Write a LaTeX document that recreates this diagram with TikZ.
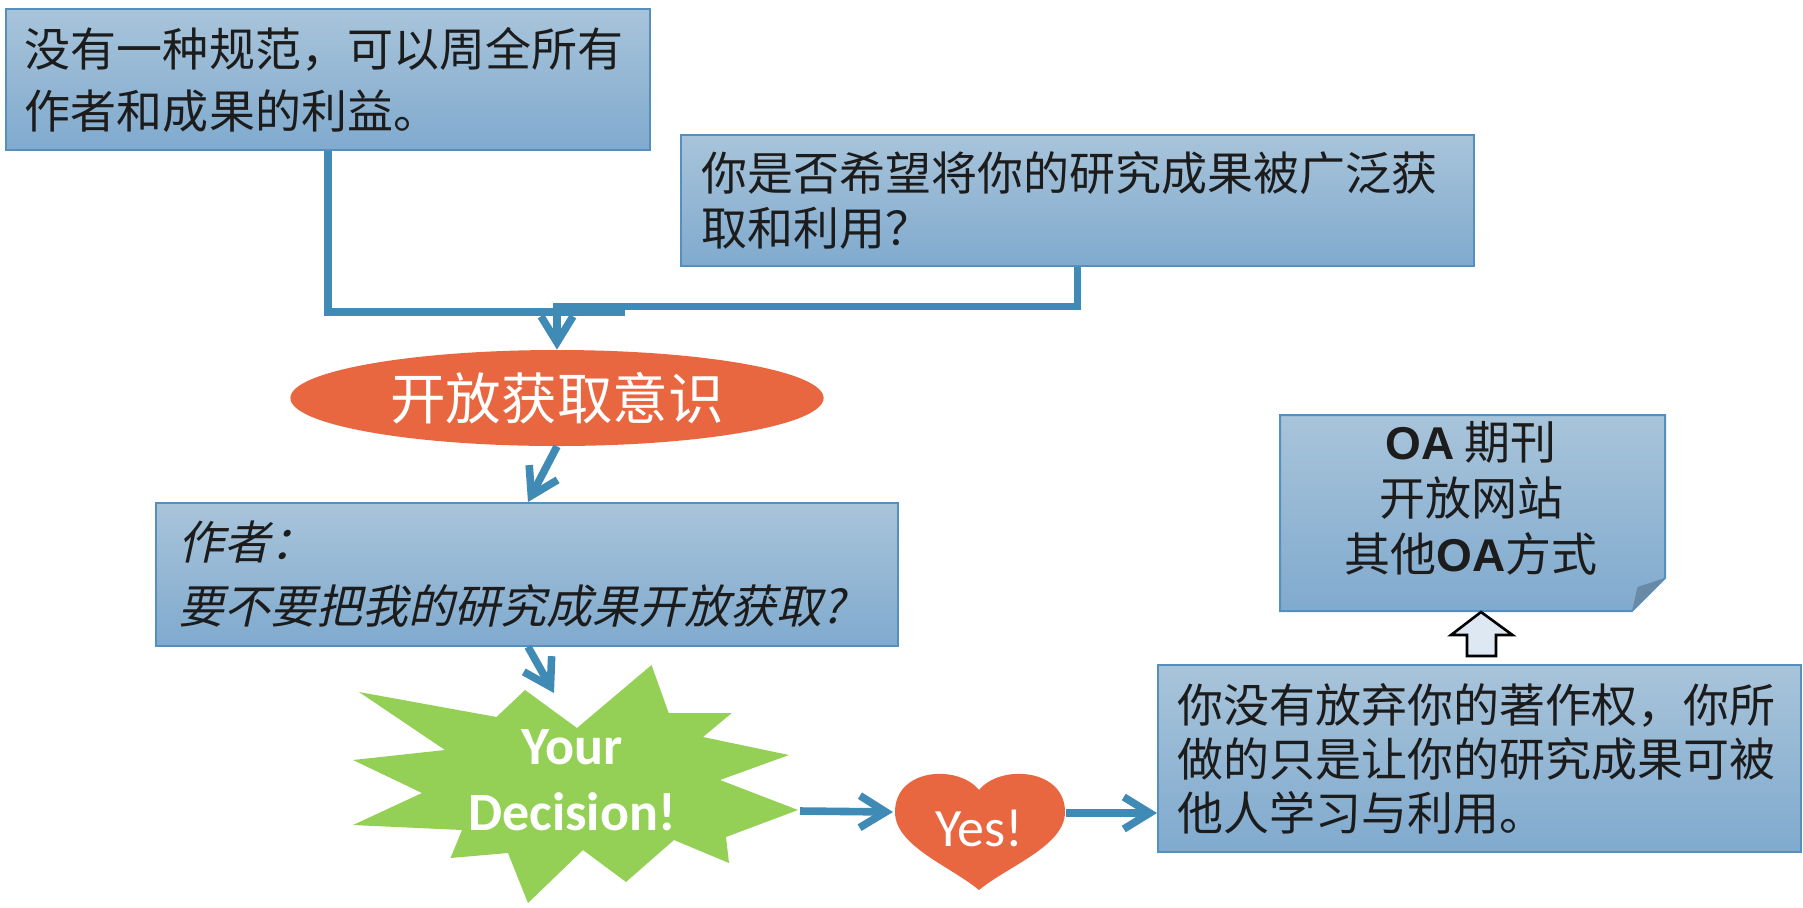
\documentclass[tikz,border=0pt]{standalone}
\usepackage{fontspec}
\setmainfont{Liberation Sans}
\newfontfamily\cjkfont{Noto Sans CJK SC}
\newfontfamily\cjkslant{Noto Sans CJK SC}[FakeSlant=0.22]
\newfontfamily\carlfont{Carlito}
\newfontfamily\latinfont{Liberation Sans}
\usetikzlibrary{arrows.meta,shapes.geometric}

\definecolor{boxtop}{RGB}{168,196,218}
\definecolor{boxbot}{RGB}{128,170,206}
\definecolor{boxline}{RGB}{84,143,190}
\definecolor{connc}{RGB}{64,138,182}
\definecolor{redfill}{RGB}{232,102,64}
\definecolor{greenfill}{RGB}{148,208,86}
\definecolor{txt}{RGB}{28,28,28}
\definecolor{foldc}{RGB}{104,138,166}
\definecolor{blockfill}{RGB}{222,232,242}

\begin{document}
\begin{tikzpicture}[x=0.5pt,y=-0.5pt,
  bluebox/.style={draw=boxline, line width=1pt, top color=boxtop, bottom color=boxbot,
    inner ysep=0pt, align=left, text=txt},
  conn/.style={draw=connc, line width=3.8pt},
  arr/.style={conn, -{Straight Barb[length=13pt,width=16pt]}},
]
\path[fill=white] (0,0) rectangle (1803,907);
\path[use as bounding box] (0,0) rectangle (1803,907);

% boxes
\node[bluebox, minimum width=322pt, minimum height=70.5pt, inner xsep=9.5pt, text width=303pt,
  font={\cjkfont\fontsize{23pt}{31pt}\selectfont}] (b1) at (328,79.5)
  {没有一种规范，可以周全所有\\作者和成果的利益。};

\node[bluebox, minimum width=396.5pt, minimum height=65.5pt, inner xsep=10pt, text width=376.5pt,
  font={\cjkfont\fontsize{23pt}{27.5pt}\selectfont}] (b2) at (1077.5,200.5)
  {你是否希望将你的研究成果被广泛获\\取和利用？};

\node[ellipse, fill=redfill, minimum width=266.6pt, minimum height=48pt, inner sep=0pt,
  text=white, font={\cjkfont\fontsize{27.8pt}{30pt}\selectfont}] (ell) at (557,398) {开放获取意识};

\node[bluebox, minimum width=370.8pt, minimum height=71.4pt, inner xsep=11pt, text width=348.8pt,
  font={\cjkslant\fontsize{23pt}{32pt}\selectfont}] (b3) at (526.8,574.4)
  {作者：\\要不要把我的研究成果开放获取?};

\node[bluebox, minimum width=321.5pt, minimum height=93.5pt, inner xsep=9.5pt, text width=302.5pt,
  font={\cjkfont\fontsize{23pt}{27pt}\selectfont}] (b4) at (1479.5,758.5)
  {你没有放弃你的著作权，你所\\做的只是让你的研究成果可被\\他人学习与利用。};

% OA box with folded corner
\path[draw=boxline, line width=1pt, top color=boxtop, bottom color=boxbot]
  (1280,415) -- (1665,415) -- (1665,578) -- (1632,611) -- (1280,611) -- cycle;
\fill[foldc] (1632,611) -- (1637.5,587) -- (1665,578) -- cycle;
\node[align=center, text=txt, font={\cjkfont\fontsize{23pt}{28pt}\selectfont}] (oa) at (1471,498)
  {{\latinfont\bfseries OA} 期刊\\开放网站\\其他{\latinfont\bfseries OA}方式};

% hollow block arrow
\draw[fill=blockfill, line width=1.3pt, line join=miter]
  (1481,612) -- (1512.5,635) -- (1496,635) -- (1496,656) -- (1467,656) -- (1467,635) -- (1451,635) -- cycle;

% starburst
\fill[greenfill] (651.5,665) -- (668.7,713) -- (731.8,713) -- (703,737) -- (789,755) -- (720,780)
  -- (798,810) -- (726,837) -- (729,863) -- (674,840) -- (626,882) -- (583,850) -- (528,903)
  -- (508,853) -- (450.5,858) -- (462,830) -- (353,825) -- (422,793) -- (353,760) -- (445,750)
  -- (359,692) -- (496.5,717) -- (525,690) -- (577,728) -- cycle;
\node[text=white, align=center, font={\carlfont\bfseries\fontsize{27pt}{33pt}\selectfont}] (dec) at (572,780)
  {Your\\Decision!};
\coordinate (burstIn) at (554,693);
\coordinate (burstTip) at (800,811);

% heart
\fill[redfill] (979,790) .. controls (958,764) and (895,768) .. (895,812)
  .. controls (895,846) and (950,866) .. (979,890)
  .. controls (1008,866) and (1065,846) .. (1065,812)
  .. controls (1065,768) and (1000,764) .. (979,790) -- cycle;
\node[text=white, font={\carlfont\fontsize{27pt}{30pt}\selectfont}] (yes) at (979,828) {Yes!};
\coordinate (heartW) at (893,812);
\coordinate (heartE) at (1066,813);

% connectors
\coordinate (j1) at (625,312);
\draw[conn] ([xshift=161.5pt]b1.south west) |- (j1);
\draw[arr] (b2.south) |- ([yshift=21.5pt]ell.north) -- (ell.north);
\draw[arr] (ell.south) -- ([xshift=186.5pt]b3.north west);
\draw[arr] ([xshift=186.5pt]b3.south west) -- (burstIn);
\draw[arr] (burstTip) -- (heartW);
\draw[arr] (heartE) -- (b4.west |- heartE);
\end{tikzpicture}
\end{document}
